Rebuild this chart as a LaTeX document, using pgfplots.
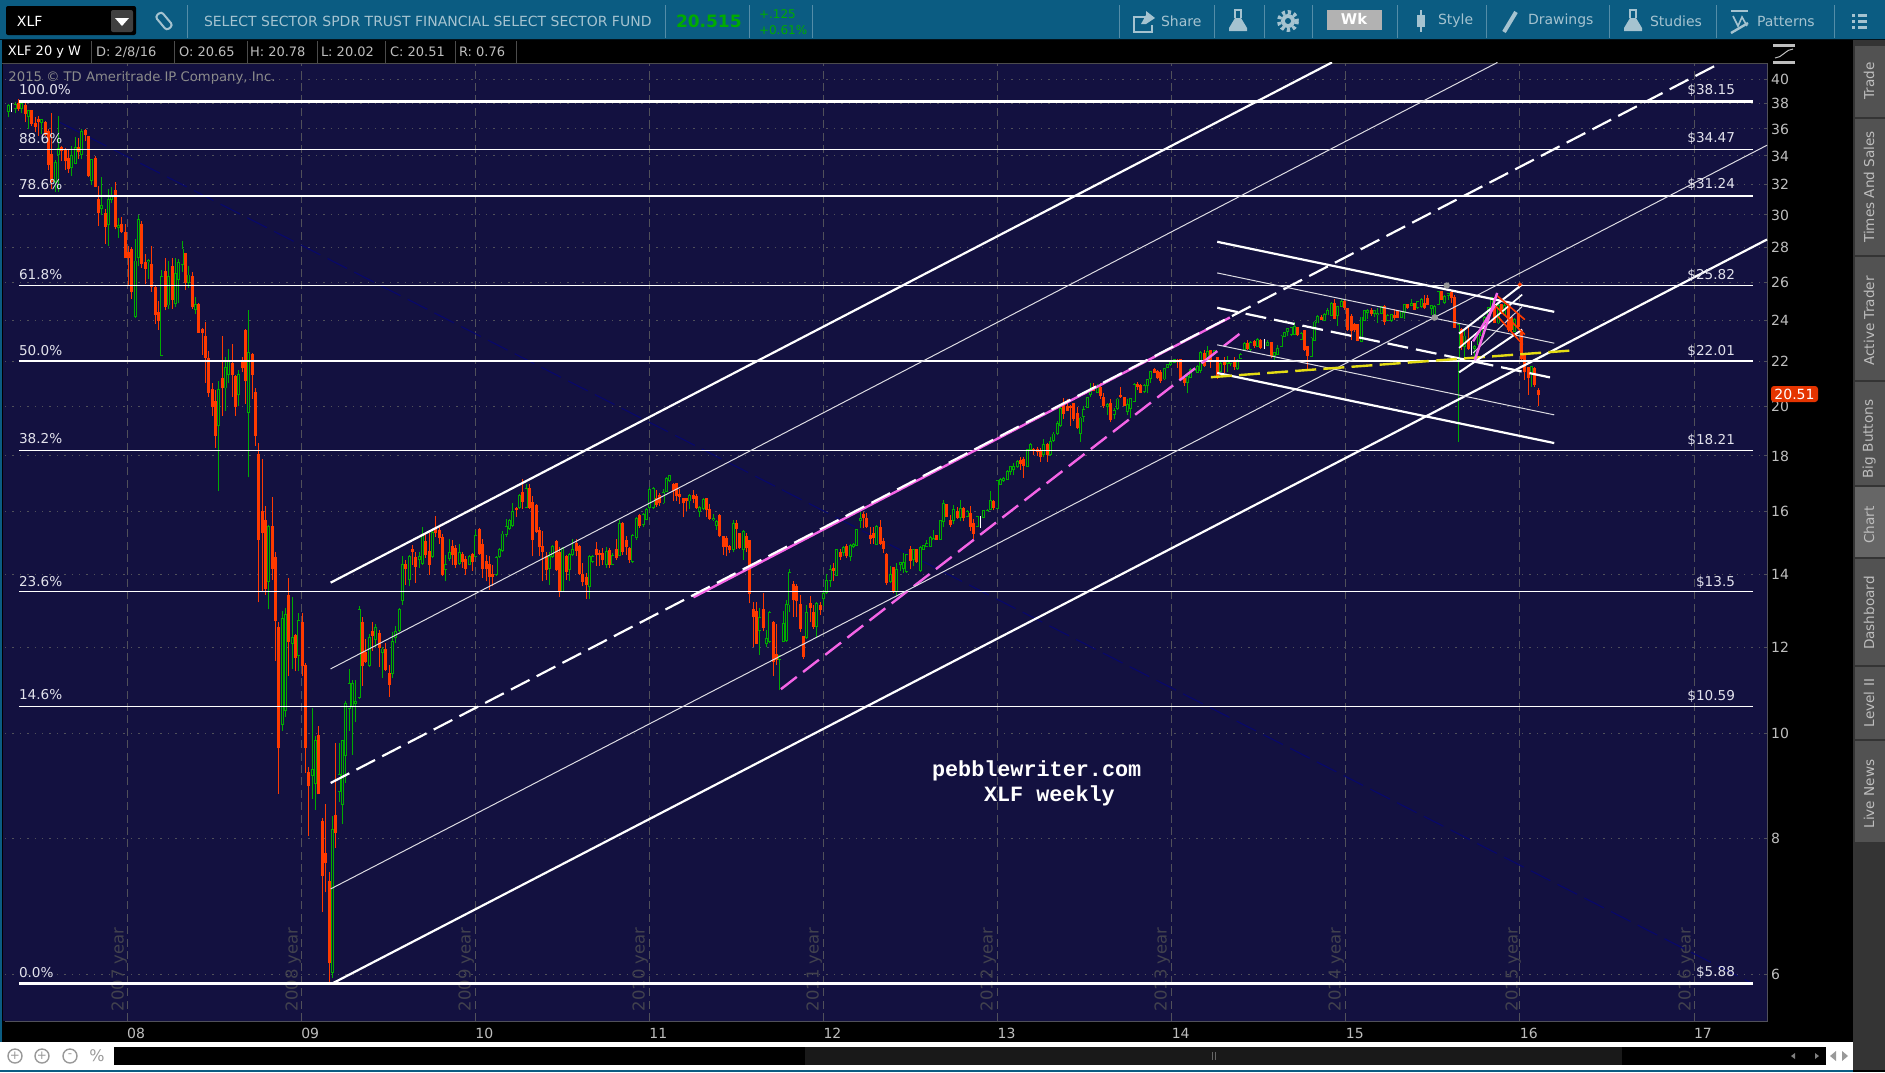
\documentclass[border=0pt]{standalone}
\usepackage{fontspec}
\setmainfont{DejaVu Sans}
\newfontfamily\monof{Liberation Mono}
\usepackage{pgfplots}
\usepackage{pgfplotstable}
\pgfplotsset{compat=1.18}
\definecolor{bg}{RGB}{19,17,64}
\definecolor{teal}{RGB}{11,92,130}
\definecolor{tealtxt}{RGB}{165,195,208}
\definecolor{candleup}{RGB}{0,172,0}
\definecolor{candledn}{RGB}{255,58,0}
\definecolor{gridc}{RGB}{80,80,90}
\definecolor{yearc}{RGB}{66,66,78}
\definecolor{lab}{RGB}{226,226,236}
\definecolor{tick}{RGB}{190,190,190}
\definecolor{pink}{RGB}{245,100,230}
\definecolor{yel}{RGB}{228,220,20}
\definecolor{navy2}{RGB}{8,8,105}
\definecolor{tab}{RGB}{52,52,52}
\newcommand\fs[1]{\fontsize{#1}{#1}\selectfont}

% weekly candles: week number, open, high, low, close
\pgfplotstableread{
w o h l c
0 37.35 37.95 36.9 37.85
1 37.9 38.0 37.3 37.9
2 37.6 38.1 37.2 37.9
3 38.0 38.4 37.4 37.6
4 37.65 38.1 37.2 38.0
5 37.85 38.0 36.5 37.2
6 37.0 37.5 36.0 37.4
7 37.4 37.5 36.2 36.4
8 36.4 36.9 35.8 36.2
9 36.7 37.0 35.5 36.6
10 36.5 36.8 35.6 36.7
11 36.5 36.6 35.5 35.6
12 35.8 36.0 33.0 33.4
13 34.1 37.2 31.7 32.2
14 32.2 33.7 31.5 33.5
15 34.1 37.0 31.5 34.5
16 34.6 34.7 33.6 34.4
17 34.4 34.6 33.0 33.7
18 33.8 34.4 32.8 33.1
19 33.2 34.7 32.6 34.0
20 33.5 35.4 33.4 34.6
21 34.6 35.3 33.8 34.3
22 34.1 36.0 33.8 35.8
23 35.9 36.0 35.1 35.6
24 35.4 35.45 32.5 32.6
25 32.3 33.8 32.0 33.7
26 33.8 34.0 31.8 31.9
27 31.0 31.9 29.3 30.2
28 30.4 32.5 30.0 30.6
29 30.1 30.4 28.2 29.3
30 29.4 31.7 28.1 31.0
31 31.0 31.8 30.8 31.2
32 31.6 32.2 29.1 29.3
33 29.2 29.8 28.6 29.3
34 29.4 29.9 28.9 29.0
35 28.9 29.4 27.4 27.4
36 27.7 28.1 25.8 27.4
37 27.9 28.0 25.1 25.5
38 24.2 28.5 24.1 27.2
39 27.4 30.0 26.9 29.7
40 29.4 29.6 26.8 27.1
41 27.1 27.6 25.9 26.8
42 27.2 27.3 26.2 27.25
43 27.0 28.1 25.5 25.8
44 25.7 25.8 23.8 24.3
45 24.4 25.0 23.5 24.0
46 22.3 26.7 22.3 26.3
47 26.6 27.4 24.5 24.7
48 24.8 27.2 24.6 26.3
49 26.9 27.4 24.6 25.1
50 24.9 27.4 24.7 26.5
51 26.2 27.3 24.9 27.1
52 27.0 28.4 26.6 27.9
53 27.65 27.7 25.6 26.0
54 26.0 26.9 25.7 26.4
55 26.3 26.6 24.6 24.7
56 24.55 25.2 24.3 24.8
57 24.8 24.9 23.4 23.4
58 23.5 23.6 22.3 23.4
59 23.2 23.9 21.0 22.2
60 22.1 22.5 20.4 20.6
61 20.7 21.0 19.6 20.0
62 20.2 20.7 18.3 18.8
63 19.2 21.1 16.7 20.7
64 21.2 23.2 19.6 20.8
65 20.8 22.2 19.8 21.7
66 21.4 22.6 21.0 22.0
67 21.9 22.8 20.4 21.4
68 21.3 21.35 19.6 20.0
69 20.5 21.6 20.0 21.4
70 22.0 22.2 21.5 21.7
71 23.5 23.55 20.1 21.15
72 19.75 24.5 17.2 22.4
73 22.3 22.4 20.3 21.4
74 20.6 20.8 18.4 18.8
75 18.05 18.5 13.2 15.1
76 16.0 17.9 13.5 15.3
77 15.7 16.2 13.4 13.6
78 13.8 15.55 13.0 15.5
79 15.5 16.5 13.85 14.2
80 14.5 14.7 11.65 12.7
81 12.5 12.65 8.8 9.7
82 10.2 12.95 10.05 12.75
83 10.5 13.05 10.35 12.85
84 13.4 13.9 11.3 12.15
85 12.1 13.35 11.45 12.25
86 12.3 12.35 11.4 11.75
87 11.8 12.9 11.4 12.7
88 12.65 12.9 11.3 11.55
89 11.55 11.6 9.2 9.7
90 9.2 9.3 8.05 8.95
91 9.15 10.55 8.7 9.25
92 9.0 9.95 8.5 9.85
93 9.95 10.15 8.8 8.8
94 8.3 8.35 6.85 7.4
95 7.75 8.6 7.15 7.6
96 7.3 7.45 5.88 6.15
97 6.03 8.4 5.95 8.15
98 8.4 9.8 7.85 8.1
99 8.85 9.8 8.65 9.15
100 8.6 9.85 8.25 9.85
101 9.55 10.7 9.0 10.65
102 10.55 11.45 10.05 11.1
103 10.6 11.2 9.55 11.1
104 10.65 11.2 10.25 10.7
105 10.8 13.1 10.75 13.0
106 12.65 12.8 11.05 11.55
107 11.85 12.2 11.6 11.65
108 11.55 12.35 11.5 12.25
109 12.4 12.65 11.9 12.3
110 12.2 12.6 12.0 12.5
111 12.35 12.45 11.5 12.0
112 11.87 12.0 11.25 11.95
113 11.95 12.1 11.4 11.45
114 11.35 11.55 10.8 11.1
115 11.35 12.4 11.25 12.15
116 12.25 12.55 12.1 12.4
117 12.45 13.03 12.4 13.0
118 13.25 14.55 13.13 14.3
119 14.3 14.45 13.7 14.2
120 13.85 14.6 13.65 14.55
121 14.75 14.9 14.3 14.7
122 14.5 14.7 13.75 14.25
123 14.45 14.7 14.2 14.55
124 14.35 15.5 14.3 15.2
125 15.0 15.3 14.5 14.6
126 14.7 15.3 14.0 14.3
127 14.55 15.35 14.5 15.3
128 15.4 15.85 15.15 15.3
129 15.35 15.5 14.95 15.15
130 15.15 15.25 13.95 14.0
131 14.15 14.6 13.8 14.3
132 14.5 15.1 14.4 14.65
133 14.85 15.05 14.3 14.6
134 14.8 14.9 14.2 14.3
135 14.35 14.95 14.3 14.65
136 14.6 14.7 14.2 14.4
137 14.45 14.55 14.0 14.2
138 14.3 14.6 14.27 14.53
139 14.6 14.65 14.1 14.4
140 14.55 15.4 14.52 15.2
141 15.4 15.45 14.6 14.65
142 14.9 15.1 13.9 14.2
143 14.4 14.6 13.8 14.2
144 14.3 14.55 13.55 13.95
145 14.0 14.3 13.65 13.95
146 14.0 14.55 13.95 14.5
147 14.55 14.8 14.5 14.75
148 14.75 15.35 14.7 15.25
149 15.25 15.75 15.15 15.5
150 15.45 15.75 15.4 15.7
151 15.55 16.3 15.5 16.0
152 16.1 16.15 15.8 16.07
153 16.15 16.6 16.1 16.55
154 16.65 17.15 16.1 16.35
155 16.15 16.95 16.15 16.8
156 16.8 16.95 16.1 16.15
157 16.3 16.55 14.55 15.1
158 16.2 16.25 15.3 15.35
159 15.35 15.5 14.55 14.85
160 14.85 15.35 13.8 14.7
161 14.55 14.7 13.85 14.15
162 14.2 14.7 13.7 14.55
163 14.55 14.9 14.5 14.85
164 15.0 15.05 14.1 14.15
165 14.65 14.85 13.35 13.5
166 13.5 14.85 13.5 14.8
167 14.55 14.6 13.85 14.1
168 14.15 14.65 13.8 14.6
169 14.6 15.1 14.55 14.75
170 14.95 15.1 14.55 14.75
171 14.85 14.9 14.0 14.05
172 14.0 14.35 13.65 13.8
173 13.9 14.05 13.3 13.7
174 13.65 14.6 13.3 14.55
175 14.4 14.6 14.35 14.55
176 14.77 15.0 14.25 14.6
177 14.62 14.75 14.25 14.6
178 14.62 14.8 14.3 14.47
179 14.3 14.85 14.2 14.7
180 14.72 14.8 14.2 14.3
181 14.3 14.65 14.27 14.58
182 14.77 15.1 14.45 14.53
183 14.58 15.7 14.55 15.6
184 15.6 15.65 14.6 14.7
185 15.05 15.2 14.6 14.85
186 14.8 14.85 14.35 14.45
187 14.4 15.25 14.35 15.2
188 15.15 15.8 15.05 15.75
189 15.87 15.9 15.45 15.55
190 15.58 15.95 15.5 15.9
191 15.75 16.12 15.7 16.05
192 16.15 16.85 16.1 16.75
193 16.15 16.85 16.1 16.8
194 16.45 16.75 16.15 16.25
195 16.55 16.65 16.2 16.3
196 16.3 16.8 16.25 16.65
197 16.7 17.2 16.7 17.15
198 17.1 17.28 17.05 17.25
199 16.95 17.0 16.35 16.75
200 16.97 17.0 16.35 16.55
201 16.57 16.8 16.25 16.53
202 16.43 16.47 15.8 16.3
203 16.45 16.47 16.03 16.4
204 16.37 16.6 16.1 16.55
205 16.55 16.75 16.3 16.45
206 16.5 16.6 16.1 16.15
207 16.0 16.2 15.83 16.13
208 16.1 16.45 16.05 16.4
209 16.45 16.47 15.8 16.07
210 16.07 16.25 15.72 15.77
211 15.73 15.9 15.67 15.77
212 15.55 15.72 15.4 15.67
213 15.87 15.9 15.15 15.2
214 15.17 15.2 14.6 14.85
215 15.1 15.2 14.55 14.85
216 14.85 14.9 14.65 14.78
217 14.77 15.7 14.7 15.6
218 15.6 15.72 14.77 15.45
219 15.25 15.27 14.78 14.82
220 14.77 15.4 14.45 15.33
221 15.17 15.3 14.7 14.82
222 15.05 15.07 13.17 13.45
223 13.0 13.2 12.0 12.8
224 12.93 13.2 12.08 12.1
225 12.43 13.05 11.8 12.77
226 13.0 13.45 12.42 12.52
227 12.1 12.45 12.0 12.23
228 12.15 12.95 12.1 12.9
229 12.63 12.68 11.3 11.65
230 11.82 12.6 11.55 11.7
231 11.7 11.8 10.95 11.78
232 12.15 12.95 12.13 12.62
233 12.17 13.27 12.13 13.13
234 13.13 14.15 12.93 14.05
235 13.7 13.8 12.8 13.27
236 13.65 13.72 12.8 13.25
237 13.13 13.4 12.4 12.5
238 12.27 12.28 11.7 11.77
239 12.25 13.13 12.2 12.9
240 13.17 13.37 12.65 13.07
241 12.92 13.13 12.48 12.55
242 12.55 13.2 12.23 13.17
243 13.1 13.2 12.85 13.0
244 13.3 13.55 13.1 13.45
245 13.47 14.02 13.42 13.82
246 13.82 14.3 13.62 14.15
247 14.17 14.35 13.8 14.12
248 13.97 14.77 13.95 14.75
249 14.65 14.77 14.45 14.55
250 14.67 14.87 14.55 14.82
251 14.85 14.92 14.5 14.57
252 14.55 14.92 14.4 14.87
253 14.87 14.97 14.8 14.9
254 14.9 15.42 14.87 15.4
255 15.7 16.0 15.45 15.75
256 15.9 16.0 15.45 15.8
257 15.75 15.95 15.45 15.5
258 15.2 15.5 14.95 15.13
259 15.27 15.5 14.95 15.15
260 14.92 15.55 14.9 15.5
261 15.45 15.7 14.9 14.97
262 15.0 15.13 14.65 14.8
263 14.6 14.65 13.7 13.77
264 13.8 14.25 13.75 14.0
265 14.2 14.22 13.45 13.5
266 13.52 14.35 13.37 14.13
267 14.3 14.35 14.1 14.35
268 14.2 14.65 14.05 14.35
269 14.1 14.62 14.05 14.6
270 14.75 14.87 14.15 14.43
271 14.45 14.78 14.25 14.75
272 14.75 14.78 14.35 14.4
273 14.12 14.87 14.08 14.82
274 14.78 14.9 14.75 14.87
275 14.87 15.07 14.85 14.95
276 14.87 15.18 14.85 15.13
277 15.07 15.4 15.05 15.1
278 15.2 15.23 15.07 15.1
279 15.1 15.73 15.07 15.7
280 15.68 16.4 15.47 16.27
281 16.22 16.25 15.8 15.83
282 15.7 15.88 15.47 15.57
283 15.7 16.22 15.57 16.05
284 15.98 16.17 15.75 15.8
285 15.8 16.38 15.67 16.08
286 16.08 16.17 15.67 15.8
287 15.83 16.05 15.8 16.0
288 15.93 16.2 15.35 15.52
289 15.6 15.75 15.08 15.28
290 15.52 15.85 15.5 15.83
291 15.75 15.85 15.45 15.75
292 15.8 16.05 15.77 16.02
293 16.0 16.07 15.97 16.03
294 16.08 16.7 16.05 16.37
295 16.33 16.38 16.05 16.15
296 16.12 17.12 16.08 17.08
297 16.95 17.17 16.92 17.13
298 17.1 17.2 17.05 17.15
299 17.13 17.47 17.1 17.42
300 17.42 17.63 17.3 17.6
301 17.5 17.75 17.3 17.6
302 17.6 17.85 17.55 17.77
303 17.83 17.97 17.47 17.72
304 17.85 17.97 17.17 17.65
305 17.6 18.25 17.58 18.23
306 18.25 18.5 18.22 18.45
307 18.25 18.3 18.05 18.2
308 18.25 18.35 18.0 18.17
309 18.2 18.3 17.77 18.0
310 18.05 18.65 17.95 18.45
311 18.45 18.5 17.77 18.05
312 18.05 18.75 18.0 18.55
313 18.62 18.95 18.55 18.85
314 18.88 19.37 18.83 19.27
315 19.23 20.0 19.15 19.9
316 20.07 20.35 19.47 19.72
317 20.0 20.3 19.8 19.82
318 20.0 20.07 19.2 19.95
319 20.1 20.15 19.4 19.5
320 19.7 19.97 19.05 19.12
321 18.9 19.55 18.55 19.5
322 19.58 20.0 19.35 19.85
323 19.97 20.4 19.93 20.37
324 20.5 21.0 20.4 20.7
325 20.8 21.0 20.65 20.7
326 20.6 20.95 20.55 20.85
327 20.82 21.0 20.3 20.47
328 20.37 20.55 19.95 20.03
329 20.0 20.15 19.63 20.07
330 20.12 20.3 19.33 19.47
331 19.68 19.95 19.47 19.82
332 19.9 20.35 19.85 20.3
333 20.44 20.85 20.35 20.41
334 20.35 20.37 20.0 20.03
335 19.8 20.3 19.65 20.07
336 19.9 20.37 19.5 20.33
337 20.22 21.0 20.18 20.95
338 20.95 21.05 20.7 20.88
339 20.9 20.95 20.55 20.6
340 20.63 20.95 20.55 20.87
341 20.9 21.2 20.55 21.15
342 21.22 21.52 21.0 21.5
343 21.62 21.67 21.47 21.5
344 21.5 21.6 21.2 21.25
345 21.47 21.6 21.0 21.15
346 21.2 21.7 21.15 21.65
347 21.73 21.85 21.7 21.82
348 21.85 22.0 21.8 21.95
349 21.95 22.1 21.9 22.05
350 22.03 22.12 21.7 22.0
351 22.07 22.1 21.15 21.18
352 21.18 21.2 20.87 21.05
353 21.05 21.35 20.55 21.28
354 21.28 21.7 21.25 21.6
355 21.6 21.7 21.55 21.63
356 21.5 21.85 21.47 21.75
357 21.6 22.5 21.47 22.4
358 22.37 22.55 21.75 21.8
359 22.07 22.7 22.0 22.45
360 22.5 22.55 21.7 22.07
361 22.4 22.55 22.35 22.5
362 22.15 22.17 21.2 21.3
363 21.55 22.0 21.5 21.9
364 21.97 22.2 21.45 21.85
365 21.9 22.25 21.5 22.0
366 21.9 22.0 21.8 22.0
367 22.03 22.2 21.6 21.75
368 21.68 22.1 21.6 22.03
369 22.12 22.4 22.1 22.3
370 22.55 22.9 22.5 22.85
371 22.85 23.0 22.55 22.6
372 22.55 22.95 22.5 22.9
373 22.95 23.0 22.65 22.75
374 22.7 23.1 22.67 23.05
375 23.0 23.05 22.6 22.67
376 22.85 23.07 22.57 22.85
377 22.78 23.0 22.7 22.9
378 22.87 22.9 22.15 22.27
379 22.27 22.45 22.05 22.4
380 22.35 22.77 22.3 22.6
381 22.72 23.25 22.67 23.2
382 23.2 23.4 23.15 23.37
383 23.45 23.6 23.2 23.55
384 23.28 23.65 23.2 23.6
385 23.28 23.9 23.25 23.67
386 23.6 23.67 23.2 23.28
387 23.03 23.4 23.0 23.33
388 23.48 23.5 22.5 22.55
389 22.68 22.72 21.62 22.3
390 22.25 23.15 22.2 23.1
391 23.0 23.95 22.97 23.9
392 23.87 24.25 23.85 24.2
393 24.15 24.25 24.0 24.03
394 24.0 24.35 23.97 24.28
395 24.28 24.65 24.25 24.5
396 24.25 24.92 24.2 24.85
397 24.85 25.1 24.07 24.12
398 24.25 24.75 23.7 24.68
399 24.72 25.1 24.68 24.98
400 24.98 25.12 24.55 24.68
401 24.58 24.6 23.45 23.53
402 24.2 24.3 23.0 23.5
403 23.78 23.85 23.4 23.53
404 23.78 23.8 22.95 23.0
405 22.95 24.17 22.9 24.15
406 24.0 24.55 23.95 24.5
407 24.42 24.6 24.07 24.5
408 24.5 24.65 24.2 24.38
409 24.38 24.55 24.15 24.47
410 24.28 24.65 23.85 24.33
411 24.38 24.75 24.35 24.68
412 24.7 24.8 23.78 23.95
413 24.0 24.3 23.95 24.25
414 24.0 24.33 23.9 24.28
415 24.25 24.6 24.03 24.17
416 24.42 24.45 24.1 24.15
417 24.17 24.48 24.12 24.42
418 24.42 24.85 24.07 24.8
419 24.8 24.85 24.6 24.68
420 24.77 25.1 24.72 24.85
421 24.85 24.9 24.55 24.58
422 24.68 25.02 24.6 24.98
423 24.7 25.15 24.65 25.07
424 24.85 25.3 24.6 24.68
425 25.1 25.32 24.8 24.85
426 24.6 24.8 24.28 24.75
427 24.28 24.8 24.12 24.68
428 24.85 25.55 24.8 25.47
429 25.52 25.55 25.05 25.1
430 24.93 25.32 24.85 25.2
431 25.32 25.42 25.05 25.38
432 25.42 25.52 24.9 25.22
433 25.15 25.3 23.6 23.66
434 22.15 23.85 18.55 23.77
435 23.53 23.6 22.55 22.7
436 22.7 23.53 22.15 23.2
437 23.03 23.7 22.55 22.62
438 22.75 22.95 22.3 22.75
439 22.62 22.78 22.05 22.7
440 22.8 23.35 22.75 23.28
441 23.25 23.62 23.2 23.57
442 23.62 24.2 23.57 24.12
443 24.07 24.7 24.0 24.65
444 24.65 25.22 24.6 25.15
445 24.8 25.22 23.85 23.9
446 23.87 24.85 23.8 24.73
447 24.8 24.85 24.3 24.38
448 24.28 24.87 24.2 24.75
449 24.8 24.85 23.4 23.53
450 24.12 24.2 23.4 23.53
451 23.45 24.1 23.4 24.03
452 24.3 24.35 23.6 23.7
453 23.37 23.4 22.05 22.15
454 22.27 22.3 21.15 21.55
455 21.7 21.75 20.5 21.25
456 21.45 21.78 20.85 21.75
457 21.65 21.75 20.85 20.95
458 20.65 20.78 20.02 20.51
}\candles

\begin{document}
\begin{tikzpicture}[x=0.5pt,y=-0.5pt,every node/.style={inner sep=0pt,outer sep=0pt}]
\path[use as bounding box] (0,0) rectangle (1885,1072);
\fill[black] (0,0) rectangle (1885,1072);
% toolbar
\fill[teal] (0,0) rectangle (1885,39);
\fill[black!80!teal] (0,39) rectangle (1885,40);
\fill[black,rounded corners=1pt] (6,6) rectangle (136,35);
\fill[black!75!white,rounded corners=1pt] (111,10) rectangle (133,32);
\fill[white] (115,18) -- (129,18) -- (122,26) -- cycle;
\node[anchor=west,white] at (17,21) {\fs{7}XLF};
\draw[tealtxt,line width=1pt,rounded corners=1.5pt,rotate around={40:(164,21)}] (160,12) rectangle (168,30);
\node[anchor=west,tealtxt] at (204,21) {\fs{7}SELECT SECTOR SPDR TRUST FINANCIAL SELECT SECTOR FUND};
\node[anchor=west,candleup] at (676,21) {\fs{8.5}\bfseries 20.515};
\node[anchor=west,candleup] at (759,14) {\fs{6}+.125};
\node[anchor=west,candleup] at (759,30) {\fs{6}+0.61\%};
\foreach \s in {187,665,749,812,1119,1214,1264,1312,1397,1486,1609,1716,1834}
  \draw[teal!70!white,line width=0.5pt] (\s,5) -- (\s,38);
\draw[tealtxt,line width=0.7pt] (1146,17) -- (1134,17) -- (1134,32) -- (1152,32) -- (1152,25);
\fill[tealtxt] (1141,24) -- (1146,15) -- (1146,11) -- (1155,18) -- (1146,24) -- cycle;
\node[anchor=west,tealtxt] at (1161,21) {\fs{7}Share};
\foreach \c in {1238,1633} {
  \fill[tealtxt] (\c-9,31) -- (\c+9,31) -- (\c+9,28) -- (\c+3,18) -- (\c-3,18) -- (\c-9,28) -- cycle;
  \draw[tealtxt,line width=0.7pt] (\c-3,18) -- (\c-3,10) -- (\c+3,10) -- (\c+3,18);
}
\draw[tealtxt,line width=2pt,dash pattern=on 1.6pt off 1.4pt] (1288,21) circle (9);
\fill[tealtxt] (1288,21) circle (7);
\fill[teal] (1288,21) circle (3);
\fill[black!30!white] (1327,10) rectangle (1382,30);
\node[white] at (1354,19) {\fs{7.4}\bfseries Wk};
\fill[tealtxt] (1417,15) rectangle (1425,27);
\draw[tealtxt,line width=0.7pt] (1421,10) -- (1421,32);
\node[anchor=west,tealtxt] at (1438,21) {\fs{7}Style};
\draw[tealtxt,line width=2pt] (1504,32) -- (1516,12);
\node[anchor=west,tealtxt] at (1528,21) {\fs{7}Drawings};
\node[anchor=west,tealtxt] at (1650,21) {\fs{7}Studies};
\draw[tealtxt,line width=1.2pt] (1731,11) -- (1748,11);
\draw[tealtxt,line width=0.8pt] (1733,16) -- (1738,26) -- (1742,17) -- (1747,26);
\draw[tealtxt,line width=1.2pt] (1731,33) -- (1748,23);
\node[anchor=west,tealtxt] at (1757,21) {\fs{7}Patterns};
\foreach \yy in {15,21,27} {\fill[tealtxt] (1852,\yy-1.5) rectangle (1855,\yy+1.5); \fill[tealtxt] (1858,\yy-1.5) rectangle (1867,\yy+1.5);}
% info bar
\draw[black!70!white,line width=0.5pt] (0,63) -- (1767,63);
\foreach \s in {91.5,174,247,317,385,455,516}
  \draw[black!70!white,line width=0.5pt] (\s,41) -- (\s,63);
\node[anchor=west,white] at (8,52) {\fs{6.5}XLF 20 y W};
\foreach \xx/\t in {96/{D: 2/8/16},179/{O: 20.65},250/{H: 20.78},321/{L: 20.02},390/{C: 20.51},459/{R: 0.76}}
  \node[anchor=west,tick] at (\xx,52) {\fs{6.5}\t};
% plot background and faint labels behind the axis
\fill[bg] (3,64) rectangle (1767.7,1021);
\fill[teal] (0,40) rectangle (2,1070);
\foreach \g/\t in {127.2/2007,301.3/2008,474.3/2009,648.3/2010,822.3/2011,996.3/2012,1170.3/2013,1344.3/2014,1521.3/2015,1694.3/2016}
  \node[rotate=90,anchor=west,yearc] at (\g-8,1011) [yshift=0pt] {\fs{8.2}\t\ year};
\node[anchor=west,black!45!white] at (8.5,78) {\fs{6.6}2015 © TD Ameritrade IP Company, Inc.};
\coordinate (axc) at (5,1021);
\begin{axis}[
  at={(axc)},anchor=south west,scale only axis,
  width=881.35pt,height=479pt,
  xmin=-1,xmax=526.7,
  ymode=log,ymin=5.434,ymax=41.4,
  axis line style={draw=gridc,line width=0.5pt},
  axis x line*=bottom,axis y line*=right,
  xtick={35.59,87.71,139.83,191.94,244.06,296.17,348.29,400.41,452.52,504.64},
  xticklabels={08,09,10,11,12,13,14,15,16,17},
  xticklabel style={anchor=west,inner sep=0pt,yshift=-6pt,text=tick,font=\fs{7}},
  major tick length=2pt,tick align=inside,
  xtick style={draw=none},
  ytick style={draw=gridc,line width=0.5pt},
  ytick={6,8,10,12,14,16,18,20,22,24,26,28,30,32,34,36,38,40},
  log ticks with fixed point,
  yticklabel style={text=tick,font=\fs{7},anchor=west,inner sep=0pt,xshift=1.7pt,
    /pgf/number format/fixed,/pgf/number format/precision=0,
    /pgf/number format/assume math mode=true},
  grid=major,
  major x grid style={gridc,line width=0.5pt,dash pattern=on 4pt off 2.2pt},
  major y grid style={gridc,line width=0.5pt,dash pattern=on 0.7pt off 3pt},
  clip=true,
  error bars/y dir=plus,error bars/y explicit,error bars/error mark=none,
]
% faint navy trendline
\addplot[navy2,line width=0.6pt,dash pattern=on 11pt off 4pt] coordinates {(15.5,36.5) (522.3,5.88)};
% wicks
\addplot[draw=none,mark=none,restrict expr to domain={\thisrow{c}-\thisrow{o}}{-100:-0.0001},
  error bars/error bar style={candledn,line width=0.5pt}]
  table[x=w,y=l,y error plus expr={\thisrow{h}-\thisrow{l}}] {\candles};
\addplot[draw=none,mark=none,restrict expr to domain={\thisrow{c}-\thisrow{o}}{0.0001:100},
  error bars/error bar style={candleup,line width=0.5pt}]
  table[x=w,y=l,y error plus expr={\thisrow{h}-\thisrow{l}}] {\candles};
% bodies
\addplot[draw=none,mark=none,restrict expr to domain={\thisrow{c}-\thisrow{o}}{-100:-0.0001},
  error bars/error bar style={candledn,line width=1.5pt,line cap=butt}]
  table[x=w,y expr={\thisrow{c}*0.9985},y error plus expr={\thisrow{o}-\thisrow{c}+0.003*\thisrow{c}}] {\candles};
\addplot[draw=none,mark=none,restrict expr to domain={\thisrow{c}-\thisrow{o}}{0.0001:100},
  error bars/error bar style={candleup,line width=1.5pt,line cap=butt}]
  table[x=w,y expr={\thisrow{o}*0.9985},y error plus expr={\thisrow{c}-\thisrow{o}+0.003*\thisrow{o}}] {\candles};
\addplot[draw=none,mark=none,restrict expr to domain={\thisrow{c}-\thisrow{o}}{0.0001:100},
  error bars/error bar style={bg,line width=0.6pt,line cap=butt}]
  table[x=w,y expr={\thisrow{o}*1.0005},y error plus expr={max(0,\thisrow{c}-\thisrow{o}-0.001*\thisrow{o})}] {\candles};
% unchanged weeks
\addplot[draw=none,mark=none,restrict expr to domain={\thisrow{c}-\thisrow{o}}{-0.0001:0.0001},
  error bars/error bar style={white,line width=0.6pt}]
  table[x=w,y=l,y error plus expr={\thisrow{h}-\thisrow{l}}] {\candles};
% retracement levels
\foreach \lev/\wd in {38.15/1.6,34.47/0.7,31.24/0.7,25.82/0.7,22.01/0.7,18.21/0.7,13.5/0.7,10.59/0.7,5.88/1.6} {
  \edef\tmp{\noexpand\addplot[white,line width=\wd pt] coordinates {(3.14,\lev) (522.4,\lev)};}
  \tmp
}
% pink trendlines under the white channel
\addplot[pink,line width=1.2pt] coordinates {(205.1,13.34) (365.7,24.14)};
\addplot[pink,line width=1.2pt,dash pattern=on 10pt off 4pt] coordinates {(231.3,10.98) (368.7,23.33)};
% rising channel
\addplot[white,line width=1.1pt] coordinates {(96.48,13.76) (396.25,41.45)};
\addplot[white!85!bg,line width=0.5pt] coordinates {(96.45,11.46) (445.8,41.45)};
\addplot[white,line width=1.1pt,dash pattern=on 10.5pt off 4pt] coordinates {(96.5,9.0) (511.7,41.27)};
\addplot[white!85!bg,line width=0.5pt] coordinates {(96.5,7.19) (526.5,34.78)};
\addplot[white,line width=1.1pt] coordinates {(96.8,5.88) (526.5,28.48)};
% falling channel
\addplot[white,line width=1.1pt] coordinates {(361.9,28.34) (462.8,24.43)};
\addplot[white!85!bg,line width=0.5pt] coordinates {(361.9,26.53) (462.8,22.86)};
\addplot[white,line width=1.1pt,dash pattern=on 10.5pt off 4pt] coordinates {(361.9,24.64) (462.8,21.22)};
\addplot[white!85!bg,line width=0.5pt] coordinates {(361.9,22.78) (462.8,19.64)};
\addplot[white,line width=1.1pt] coordinates {(361.9,21.46) (462.8,18.5)};
% yellow trendline
\addplot[yel,line width=1.2pt,dash pattern=on 10.5pt off 3.6pt] coordinates {(360,21.27) (469,22.52)};
% last swing
\addplot[white,line width=1pt] coordinates {(434.3,23.33) (453.2,25.89)};
\addplot[white,line width=0.8pt] coordinates {(434.3,22.63) (453.2,25.34)};
\addplot[white!85!bg,line width=0.5pt] coordinates {(438.5,22.39) (453.2,24.71)};
\addplot[white,line width=1pt] coordinates {(434.3,21.49) (453.2,23.53)};
\addplot[candledn,line width=0.8pt] coordinates {(445.6,25.29) (454,24.03)};
\addplot[candledn,line width=0.8pt] coordinates {(445,24.76) (454,23.28)};
\addplot[candledn,line width=0.8pt] coordinates {(445.9,24.19) (453.4,22.79)};
\addplot[pink,line width=1.2pt] coordinates {(439,22.05) (445.7,25.43)};
\addplot[pink,line width=1.2pt] coordinates {(438.5,22.95) (445,24.76)};
\addplot[only marks,mark=*,mark size=1.4pt,black!40!white,mark options={draw=none}] coordinates {(430.6,25.83) (427,24.14)};
\addplot[only marks,mark=*,mark size=0.8pt,candledn,mark options={draw=none}] coordinates {(452.5,25.89)};
\end{axis}
% level labels
\foreach \yy/\t in {90/100.0\%,138.7/88.6\%,184.7/78.6\%,275/61.8\%,351/50.0\%,439/38.2\%,581.7/23.6\%,695/14.6\%,972.7/0.0\%}
  \node[anchor=west,lab] at (19,\yy) {\fs{6.8}\t};
\foreach \yy/\t in {90/{\$38.15},138/{\$34.47},184/{\$31.24},275/{\$25.82},351/{\$22.01},440/{\$18.21},582/{\$13.5},696/{\$10.59},972.7/{\$5.88}}
  \node[anchor=east,lab] at (1735,\yy) {\fs{6.8}\t};
\node[anchor=west,white] at (932,771) {\monof\bfseries\fs{10.9}pebblewriter.com};
\node[anchor=west,white] at (984,796) {\monof\bfseries\fs{10.9}XLF weekly};
% price bubble and scale icon
\fill[candledn!90!black,rounded corners=1.5pt] (1771,386) rectangle (1818,402);
\node[white] at (1794.5,394) {\fs{7}20.51};
\fill[tick] (1773,44) rectangle (1795,47);
\fill[tick] (1773,61) rectangle (1795,64);
\draw[tick,line width=0.5pt] (1775,58) .. controls (1782,58) and (1786,49) .. (1793,49);
% side tabs
\fill[tab] (1853,40) rectangle (1885,1070);
\foreach \a/\b in {46/117,119/255,257/380,382/485,559/665,667/739,741/842}
  \fill[tab!85!white] (1855,\a) rectangle (1885,\b);
\fill[black!60!white] (1855,487) rectangle (1885,557);
\foreach \yy/\t in {81/Trade,187/Times And Sales,321/Active Trader,439/Big Buttons,525/Chart,613/Dashboard,703/Level II,794/Live News}
  \node[rotate=90,tick] at (1869,\yy) {\fs{6.8}\t};
% bottom strips
\fill[white] (0,1042) rectangle (1853,1070);
\fill[black] (114,1047) rectangle (1826,1065);
\fill[black!90!white] (805,1047) rectangle (1622,1065);
\fill[black!60!white] (1212,1052) rectangle (1213,1060);
\fill[black!60!white] (1215,1052) rectangle (1216,1060);
\fill[teal] (0,1070) rectangle (1853,1072);
\fill[black!50!white] (1795,1053) -- (1795,1059) -- (1791,1056) -- cycle;
\fill[black!50!white] (1815,1053) -- (1815,1059) -- (1819,1056) -- cycle;
\foreach \c/\t in {15/+,42/+,70/-} {
  \draw[black!40!white,line width=0.7pt] (\c,1056) circle (7);
  \node[black!40!white] at (\c,1056) {\fs{6}\t};
}
\node[black!40!white] at (97,1056) {\fs{8}\%};
\fill[black!40!white] (1830,1056) -- (1836,1051) -- (1836,1061) -- cycle;
\fill[black!40!white] (1848,1056) -- (1842,1051) -- (1842,1061) -- cycle;
\end{tikzpicture}
\end{document}
